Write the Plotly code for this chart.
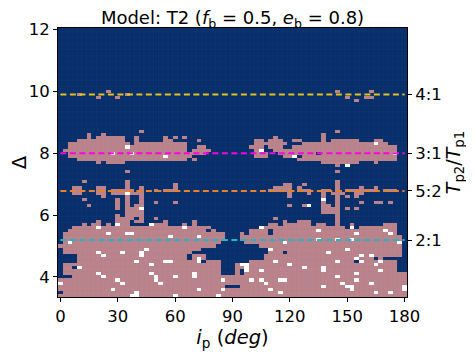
import numpy as np
import plotly.graph_objects as go

# Outcome of each simulation, top row first (delta 12.0 down to 3.4), columns i_p = 0..180 step 2.5
# . = unstable, # = stable, o = no data. Groups of ten columns.
E = ".......... .......... .......... .......... .......... .......... .......... ..."
A = "##########"
N = ".........."
def row(*g):
    return " ".join(g)

OUTCOME_ROWS = [E] * 20 + [
 row(N,"#.........",N,N,N,"........#.",".....#....","..."),
 row("....#.....","....#.....",N,N,N,N,N,"..."),
 row("........#.","..#.......",N,N,N,N,"#...##....","..."),
 row(N,N,N,N,N,N,"..#.......","..."),
] + [E] * 9 + [
 row(N,".......#..",N,N,N,"........#.",N,"..."),
 row("......#..#",N,N,N,N,".....#....",N,"..."),
 row("......#.##","####..#...","..#.#.#...",N,".....#....",".....#....",N,"..."),
 row("....######","####..#...","..##.....#",N,".##.###..#","#....#.###","###...##..","..."),
 row("..########","#####.####","#######...",N,".#######..",".#########","######o##.","..."),
 row("..########","####o#####","#######..#","#.........","###.###..#",A,A,"#.."),
 row(".#########",A,"#######.##","##........",".#o..#####",A,A,"#.."),
 row("..########","#o###o####",A,"#.........",".###..####","####.#####",A,"o.."),
 row("..########",A,"##o#####..",N,".###...##o",".#########",A,"#.."),
 row("....######",A,"#######.#.",N,N,A,A,"#.."),
 row("........#.","####......",N,N,N,".....#####","###...#...","..."),
 row(N,N,N,N,N,"........#.","o.........","..."),
 E,
 row(N,"....#.....",N,N,N,"........#.",N,"..."),
 E, E,
 row(".....#....","....#.....",N,N,N,"........#.",N,"..."),
 row(N,"....#.....","....#.....",N,".......##.",".#......#.",N,"..."),
 row("...##...##","....#..#..","....#.....",N,".....####.","#.......#.","...#..#...","..."),
 row("...##...##",".#####.#..","#.###.....",N,"....#####.","###..##.#.","#######.##","#.."),
 row("...##...##",".###o###..",N,N,"........#.","..#..#.###","..##......","..."),
 row(".........#","....#..#..",N,N,"........#.",".....#..#.","#.#.......","..."),
 row(".....#....","..#.#..#..",N,N,N,".....o..#.",N,"..."),
 row(N,"..#.#..#..","#...#.....",N,N,".....#..#.","...#..##.#","..."),
 row("......#...","..#.#.##..",N,N,"........#.",".#o..##.#.",N,"..."),
 row(N,"..#.###o..",N,N,N,".....####.","#.#.......","..."),
 row(N,"....####..",N,N,N,".....####.",N,"..."),
 row(N,"..#.####..",N,N,N,"........#.",N,"..."),
 row(N,"..####.#..","#.........",N,".....#....","........#.",N,"..."),
 row("........#.","..###.##..","..#.....#.",N,".......#..","###.....#.",N,"..."),
 row(".....#.##.","#.o##....o","###...#.#.",N,"....##.###","###.##..#.",".#......##","#.."),
 row("...#####o#",A,"######o###","##........","..o#######",A,".o.#######","#.."),
 row("..########",A,A,"#.#.......","####.#####","####o#####","########o#","#.."),
 row(".#########","o###oo####",A,"#####...#.","####.#####",A,"##o######o","#.."),
 row(".#########",A,"###o#####o","#####...##",A,A,A,"##."),
 row(".#########",A,A,"#####...##",A,"####o###o#","#o########","##."),
 row(".#o#######",A,A,"####.....#","#######o##",A,A,"#o."),
 row(A,A,A,"###.......","..########",A,A,"##."),
 row(".#########","########o#",A,N,"....o#####",A,"o#########","##."),
 row(".#######o#","###o###o##","########..",N,"....###.##","######o###",A,"##."),
 row("....#####o","#######o##","#######.##","#.........","...#######",A,"###o#o####","##."),
 row("....######",A,"#######.#o","#.........","...#######",A,"##o###.#..","..."),
 row("....######","######o###","##oo#####o",".###......","#####o####","########o#","##.o###o##","#.."),
 row(".#########","#########o",A,"####...#oo","########o#",A,"######o###","#.."),
 row(".##.o#####",A,A,"####...##o",A,"#o###o####",A,"#.."),
 row(".#########",A,A,"####...#.o","##o#######","#####o####","#######o##","#.."),
 row(".#######o#","#########o","########o#","####...#.#",A,A,"##o#######","###"),
 row("...######o",A,"o###o###o#",A,A,"########o#",A,"###"),
 row(A,"##o#######","o#########","####o#####","o#o###oo##",A,"##o#######","###"),
 row("o#########","###o######","#o########",A,"###o######","#########o","#####o####","###"),
 row(A,A,A,"#####...##",A,"#####o####","oo########","##o"),
 row(A,"#o########","#########o","####o#####","####o#####",A,"#o########","##o"),
 row(".#########","######o###",A,A,"######o###",A,"######o##o","###"),
 row(A,"#####oo###","####o#####","###o######",A,A,A,"###"),
]

RESONANCE_LABELS = ["4:1", "3:1", "5:2", "2:1"]
RESONANCE_DELTA = [9.9, 8.0, 6.78, 5.19]
RESONANCE_COLORS = ["#e3c21a", "#ff00e6", "#e8822a", "#25b4c4"]
X_TICKS = [0, 30, 60, 90, 120, 150, 180]
Y_TICKS = [4, 6, 8, 10, 12]

CODE = {".": 0, "#": 1, "o": 2}
rows = [r.replace(" ", "") for r in OUTCOME_ROWS][::-1]
z = np.array([[CODE[c] for c in r.ljust(73, ".")[:73]] for r in rows])
ny = z.shape[0]
x = np.arange(73) * 2.5
y = 12.0 - 0.1 * np.arange(ny)[::-1]

NAVY, PINK, WHITE = "#072f6b", "#bb838b", "#ffffff"
fig = go.Figure()
fig.add_trace(go.Heatmap(x=x, y=y, z=z, zmin=0, zmax=2, showscale=False, hoverinfo="skip",
    colorscale=[[0, NAVY], [0.33, NAVY], [0.33, PINK], [0.66, PINK], [0.66, WHITE], [1, WHITE]]))

# faint mesh edges of the cells
xe = np.append(x - 1.25, x[-1] + 1.25)
ye = np.append(y - 0.05, y[-1] + 0.05)
mx, my = [], []
for v in xe:
    mx += [v, v, None]; my += [ye[0], ye[-1], None]
for v in ye[::2]:
    mx += [xe[0], xe[-1], None]; my += [v, v, None]
fig.add_trace(go.Scatter(x=mx, y=my, mode="lines", hoverinfo="skip", showlegend=False,
    line=dict(color="rgba(140,140,150,0.10)", width=0.5)))

for lab, d, c in zip(RESONANCE_LABELS, RESONANCE_DELTA, RESONANCE_COLORS):
    fig.add_trace(go.Scatter(x=[0, 180], y=[d, d], yaxis="y2", mode="lines", name=lab, showlegend=False,
        line=dict(color=c, width=2, dash="6px,3.5px")))

FONT = "DejaVu Sans"
yrange = [3.35, 12.05]
fig.update_layout(
    width=466, height=345, paper_bgcolor="white", plot_bgcolor=NAVY,
    margin=dict(l=50, r=67, t=20, b=56.3, autoexpand=False),
    font=dict(family=FONT, color="black", size=16.5),
    title=dict(text="Model: T2 (<i>f</i><sub>b</sub> = 0.5, <i>e</i><sub>b</sub> = 0.8)",
               x=0.5, xref="paper", xanchor="center", y=0.99, yanchor="top", font=dict(size=18, family=FONT)),
    xaxis=dict(range=[-1.25, 181.25], tickvals=X_TICKS, ticks="outside", ticklen=4, tickcolor="black",
               showgrid=False, zeroline=False, showline=True, linecolor="black", linewidth=1, mirror=True,
               title=dict(text="<i>i</i><sub>p</sub> (<i>deg</i>)", standoff=2, font=dict(size=19.5))),
    yaxis=dict(range=yrange, tickvals=Y_TICKS, ticks="outside", ticklen=4, tickcolor="black",
               showgrid=False, zeroline=False, showline=True, linecolor="black", linewidth=1,
               title=dict(text="Δ", standoff=6, font=dict(size=19.5))),
    yaxis2=dict(range=yrange, overlaying="y", side="right", tickvals=RESONANCE_DELTA, ticktext=RESONANCE_LABELS,
                ticks="outside", ticklen=4, tickcolor="black", showgrid=False, zeroline=False,
                showline=True, linecolor="black", linewidth=1,
                title=dict(text="<i>T</i><sub>p2</sub>/<i>T</i><sub>p1</sub>", standoff=4, font=dict(size=19))),
)
fig.write_html("out.html")
